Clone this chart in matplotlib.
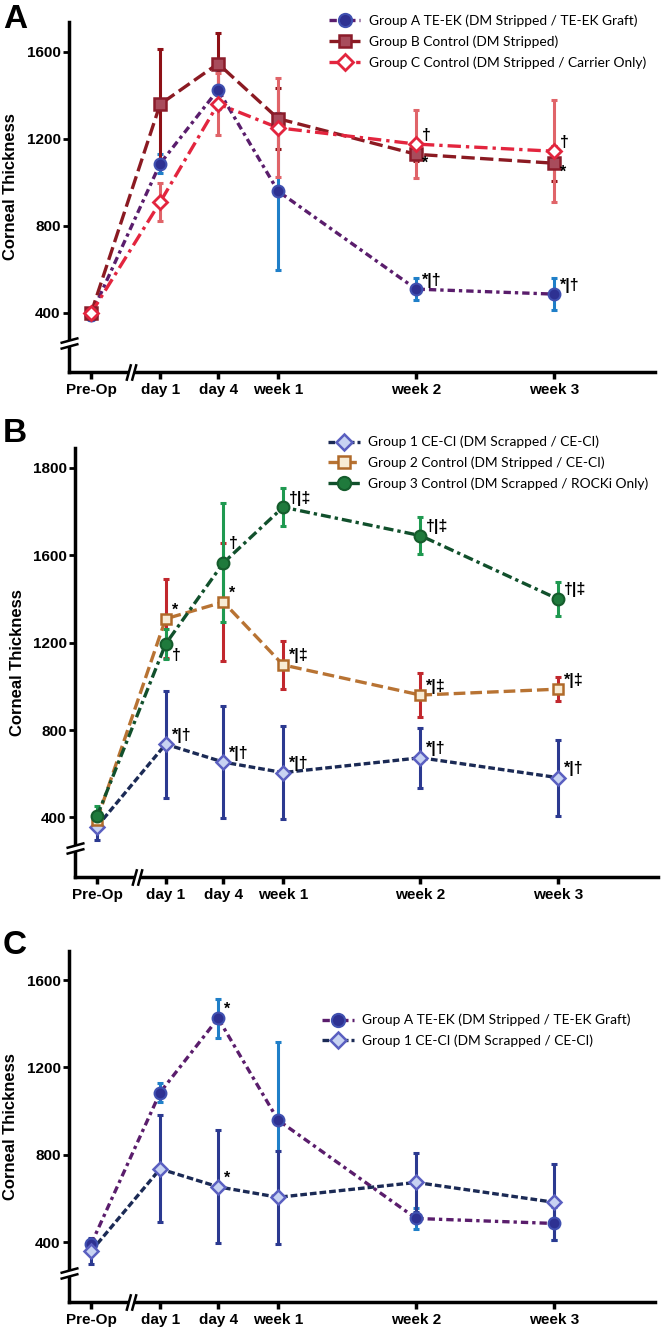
import matplotlib
matplotlib.use("Agg")
import matplotlib.pyplot as plt
from matplotlib.lines import Line2D
from matplotlib.path import Path
import matplotlib.transforms as mtrans

plt.rcParams['font.family'] = ['Liberation Sans', 'DejaVu Sans']

# time points
time_labels = ['Pre-Op', 'day 1', 'day 4', 'week 1', 'week 2', 'week 3']

# panel A / C : TE-EK groups (mean, error)
grpA_mean = [390, 1085, 1425, 958, 508, 485]
grpA_err = [25, 45, 90, 360, 50, 75]
grpB_mean = [398, 1358, 1545, 1292, 1128, 1087]
grpB_err = [20, 255, 142, 140, 30, 80]
grpC_mean = [397, 908, 1360, 1250, 1175, 1142]
grpC_err = [20, 88, 142, 228, 157, 235]

# panel B / C : CE-CI groups
grp1_mean = [358, 735, 653, 605, 673, 582]
grp1_err = [60, 245, 258, 213, 137, 174]
grp2_mean = [388, 1309, 1386, 1098, 960, 987]
grp2_err = [30, 180, 270, 110, 100, 54]
grp3_mean = [405, 1194, 1565, 1820, 1690, 1400]
grp3_err = [45, 70, 272, 86, 83, 77]

# significance marks
sigA_A = ['', '', '', '', '*|†', '*|†']
sigA_B = ['', '', '', '', '*', '*']
sigA_C = ['', '', '', '', '†', '†']
sigB_1 = ['', '*|†', '*|†', '*|†', '*|†', '*|†']
sigB_2 = ['', '*', '*', '*|‡', '*|‡', '*|‡']
sigB_3 = ['', '†', '†', '†|‡', '†|‡', '†|‡']
sigC_A = ['', '', '*', '', '', '']
sigC_1 = ['', '', '*', '', '', '']

labA = 'Group A TE-EK (DM Stripped / TE-EK Graft)'
labB = 'Group B Control (DM Stripped)'
labC = 'Group C Control (DM Stripped / Carrier Only)'
lab1 = 'Group 1 CE-CI (DM Scrapped / CE-CI)'
lab2 = 'Group 2 Control (DM Stripped / CE-CI)'
lab3 = 'Group 3 Control (DM Scrapped / ROCKi Only)'

# tick positions along the (non-linear) time axis
x_pos = [0, 1, 1.84, 2.71, 4.71, 6.71]

styles = {
    'A': dict(lc='#5a1d6c', ls=(0, (2.2, 1.2, 1, 1.2)), ec='#1f7fc8', m='o', mfc='#2e3192', mec='#4050b0', ms=8.5, mew=1.5),
    'B': dict(lc='#8b1a22', ls=(0, (4, 1.6)), ec='#8e1016', m='s', mfc='#a84c5c', mec='#8b1c2a', ms=8, mew=1.8),
    'C': dict(lc='#e3253e', ls=(0, (4, 1.5, 1, 1.5)), ec='#e06469', m='D', mfc='white', mec='#e3253e', ms=7, mew=2),
    '1': dict(lc='#1b2a55', ls=(0, (2, 0.9)), ec='#2b3990', m='D', mfc='#c8d3f2', mec='#5a5fc0', ms=7.5, mew=1.8),
    '2': dict(lc='#b87333', ls=(0, (3.5, 1.5)), ec='#c1272d', m='s', mfc='#f8ecd5', mec='#b06a2a', ms=7.5, mew=1.8),
    '3': dict(lc='#11502c', ls=(0, (3, 1.2, 1, 1.2)), ec='#1f9950', m='o', mfc='#1f7a3c', mec='#155c2c', ms=8.5, mew=1.5),
}


def draw(ax, mean, err, st, label, z=0):
    ax.errorbar(x_pos, mean, yerr=err, fmt='none', ecolor=st['ec'], elinewidth=2.2,
                capsize=2.5, capthick=2.2, zorder=2 + z)
    ax.plot(x_pos, mean, color=st['lc'], ls=st['ls'], lw=2.4, zorder=3 + z)
    ax.plot(x_pos, mean, ls='none', marker=st['m'], mfc=st['mfc'], mec=st['mec'],
            ms=st['ms'], mew=st['mew'], zorder=4 + z)
    return Line2D([], [], color=st['lc'], ls=st['ls'], lw=2.4, marker=st['m'], mfc=st['mfc'],
                  mec=st['mec'], ms=st['ms'] + 1, mew=st['mew'], label=label)


def marks(ax, mean, sig, dy=9, special=None):
    special = special or {}
    for i, s in enumerate(sig):
        if s:
            ax.annotate(s, (x_pos[i], mean[i]), xytext=(6, special.get(i, dy)),
                        textcoords='offset pixels', ha='left', va='center',
                        fontsize=11.5, fontweight='bold', zorder=6)


# break marks
ybrk = Path([(-1, -0.6), (1, -0.05), (-1, 0.05), (1, 0.6)],
            [Path.MOVETO, Path.LINETO, Path.MOVETO, Path.LINETO])
ybrk_fill = Path([(-1, -0.6), (1, -0.05), (1, 0.6), (-1, 0.05), (-1, -0.6)])
xbrk = Path([(-0.6, -1), (-0.05, 1), (0.05, -1), (0.6, 1)],
            [Path.MOVETO, Path.LINETO, Path.MOVETO, Path.LINETO])
xbrk_fill = Path([(-0.6, -1), (0.05, -1), (0.6, 1), (-0.05, 1), (-0.6, -1)])


def setup(ax, ylim, yticks, yticklabels):
    ax.set_xlim(-0.32, 8.17)
    ax.set_ylim(*ylim)
    ax.set_xticks(x_pos)
    ax.set_xticklabels(time_labels, fontsize=11, fontweight='bold')
    ax.set_yticks(yticks)
    ax.set_yticklabels(yticklabels, fontsize=11, fontweight='bold')
    for s in ['top', 'right']:
        ax.spines[s].set_visible(False)
    for s in ['left', 'bottom']:
        ax.spines[s].set_linewidth(2.5)
    ax.tick_params(axis='x', direction='out', length=5, width=2.5, pad=3)
    ax.tick_params(axis='y', direction='out', length=4, width=2, pad=2)
    ax.set_ylabel('Corneal Thickness', fontsize=12, fontweight='bold')
    ax.yaxis.set_label_coords(-0.086, 0.5)
    ty = mtrans.blended_transform_factory(ax.transAxes, ax.transData)
    ax.plot([0], [260], transform=ty, marker=ybrk_fill, ms=13, mfc='white', mec='none',
            ls='none', clip_on=False, zorder=7)
    ax.plot([0], [260], transform=ty, marker=ybrk, ms=13, mec='black', mew=1.8,
            ls='none', clip_on=False, zorder=8)
    tx = mtrans.blended_transform_factory(ax.transData, ax.transAxes)
    ax.plot([0.58], [0], transform=tx, marker=xbrk_fill, ms=12, mfc='white', mec='none',
            ls='none', clip_on=False, zorder=7)
    ax.plot([0.58], [0], transform=tx, marker=xbrk, ms=12, mec='black', mew=1.8,
            ls='none', clip_on=False, zorder=8)


leg_kw = dict(loc='upper left', frameon=False, handlelength=2.3, handletextpad=0.6,
              labelspacing=0.6, borderaxespad=0, numpoints=1,
              prop={'family': 'Lato', 'size': 9.9})

fig = plt.figure(figsize=(6.61, 13.27), dpi=100)

# ---- panel A
axA = fig.add_axes([0.1044, 0.7197, 0.8865, 0.2638])
setup(axA, (127, 1737), [400, 800, 1200, 1600], ['400', '800', '1200', '1600'])
axA.yaxis.set_label_coords(-0.087, 0.53)
hA = draw(axA, grpA_mean, grpA_err, styles['A'], labA)
hB = draw(axA, grpB_mean, grpB_err, styles['B'], labB)
hC = draw(axA, grpC_mean, grpC_err, styles['C'], labC)
marks(axA, grpA_mean, sigA_A)
marks(axA, grpB_mean, sigA_B, dy=-9)
marks(axA, grpC_mean, sigA_C)
axA.legend(handles=[hA, hB, hC], bbox_to_anchor=(0.434, 1.037), **leg_kw)

# ---- panel B
axB = fig.add_axes([0.1135, 0.3391, 0.882, 0.3233])
setup(axB, (127, 2091), [400, 800, 1200, 1600, 2000], ['400', '800', '1200', '1600', '1800'])
h1 = draw(axB, grp1_mean, grp1_err, styles['1'], lab1)
h2 = draw(axB, grp2_mean, grp2_err, styles['2'], lab2)
h3 = draw(axB, grp3_mean, grp3_err, styles['3'], lab3)
marks(axB, grp1_mean, sigB_1)
marks(axB, grp2_mean, sigB_2)
marks(axB, grp3_mean, sigB_3, special={1: -12, 2: 19})
axB.legend(handles=[h1, h2, h3], bbox_to_anchor=(0.425, 1.041), **leg_kw)

# ---- panel C
axC = fig.add_axes([0.1044, 0.0188, 0.8865, 0.2645])
setup(axC, (125, 1733), [400, 800, 1200, 1600], ['400', '800', '1200', '1600'])
axC.yaxis.set_label_coords(-0.087, 0.5)
hA2 = draw(axC, grpA_mean, grpA_err, styles['A'], labA)
h12 = draw(axC, grp1_mean, grp1_err, styles['1'], lab1)
marks(axC, grpA_mean, sigC_A)
marks(axC, grp1_mean, sigC_1)
axC.legend(handles=[hA2, h12], bbox_to_anchor=(0.423, 0.837), **leg_kw)

for letter, yy in [('A', 20), ('B', 434), ('C', 946)]:
    fig.text(15 / 661, 1 - yy / 1327, letter, fontsize=24, fontweight='bold',
             ha='center', va='center')

fig.savefig('out.png', dpi=100)
